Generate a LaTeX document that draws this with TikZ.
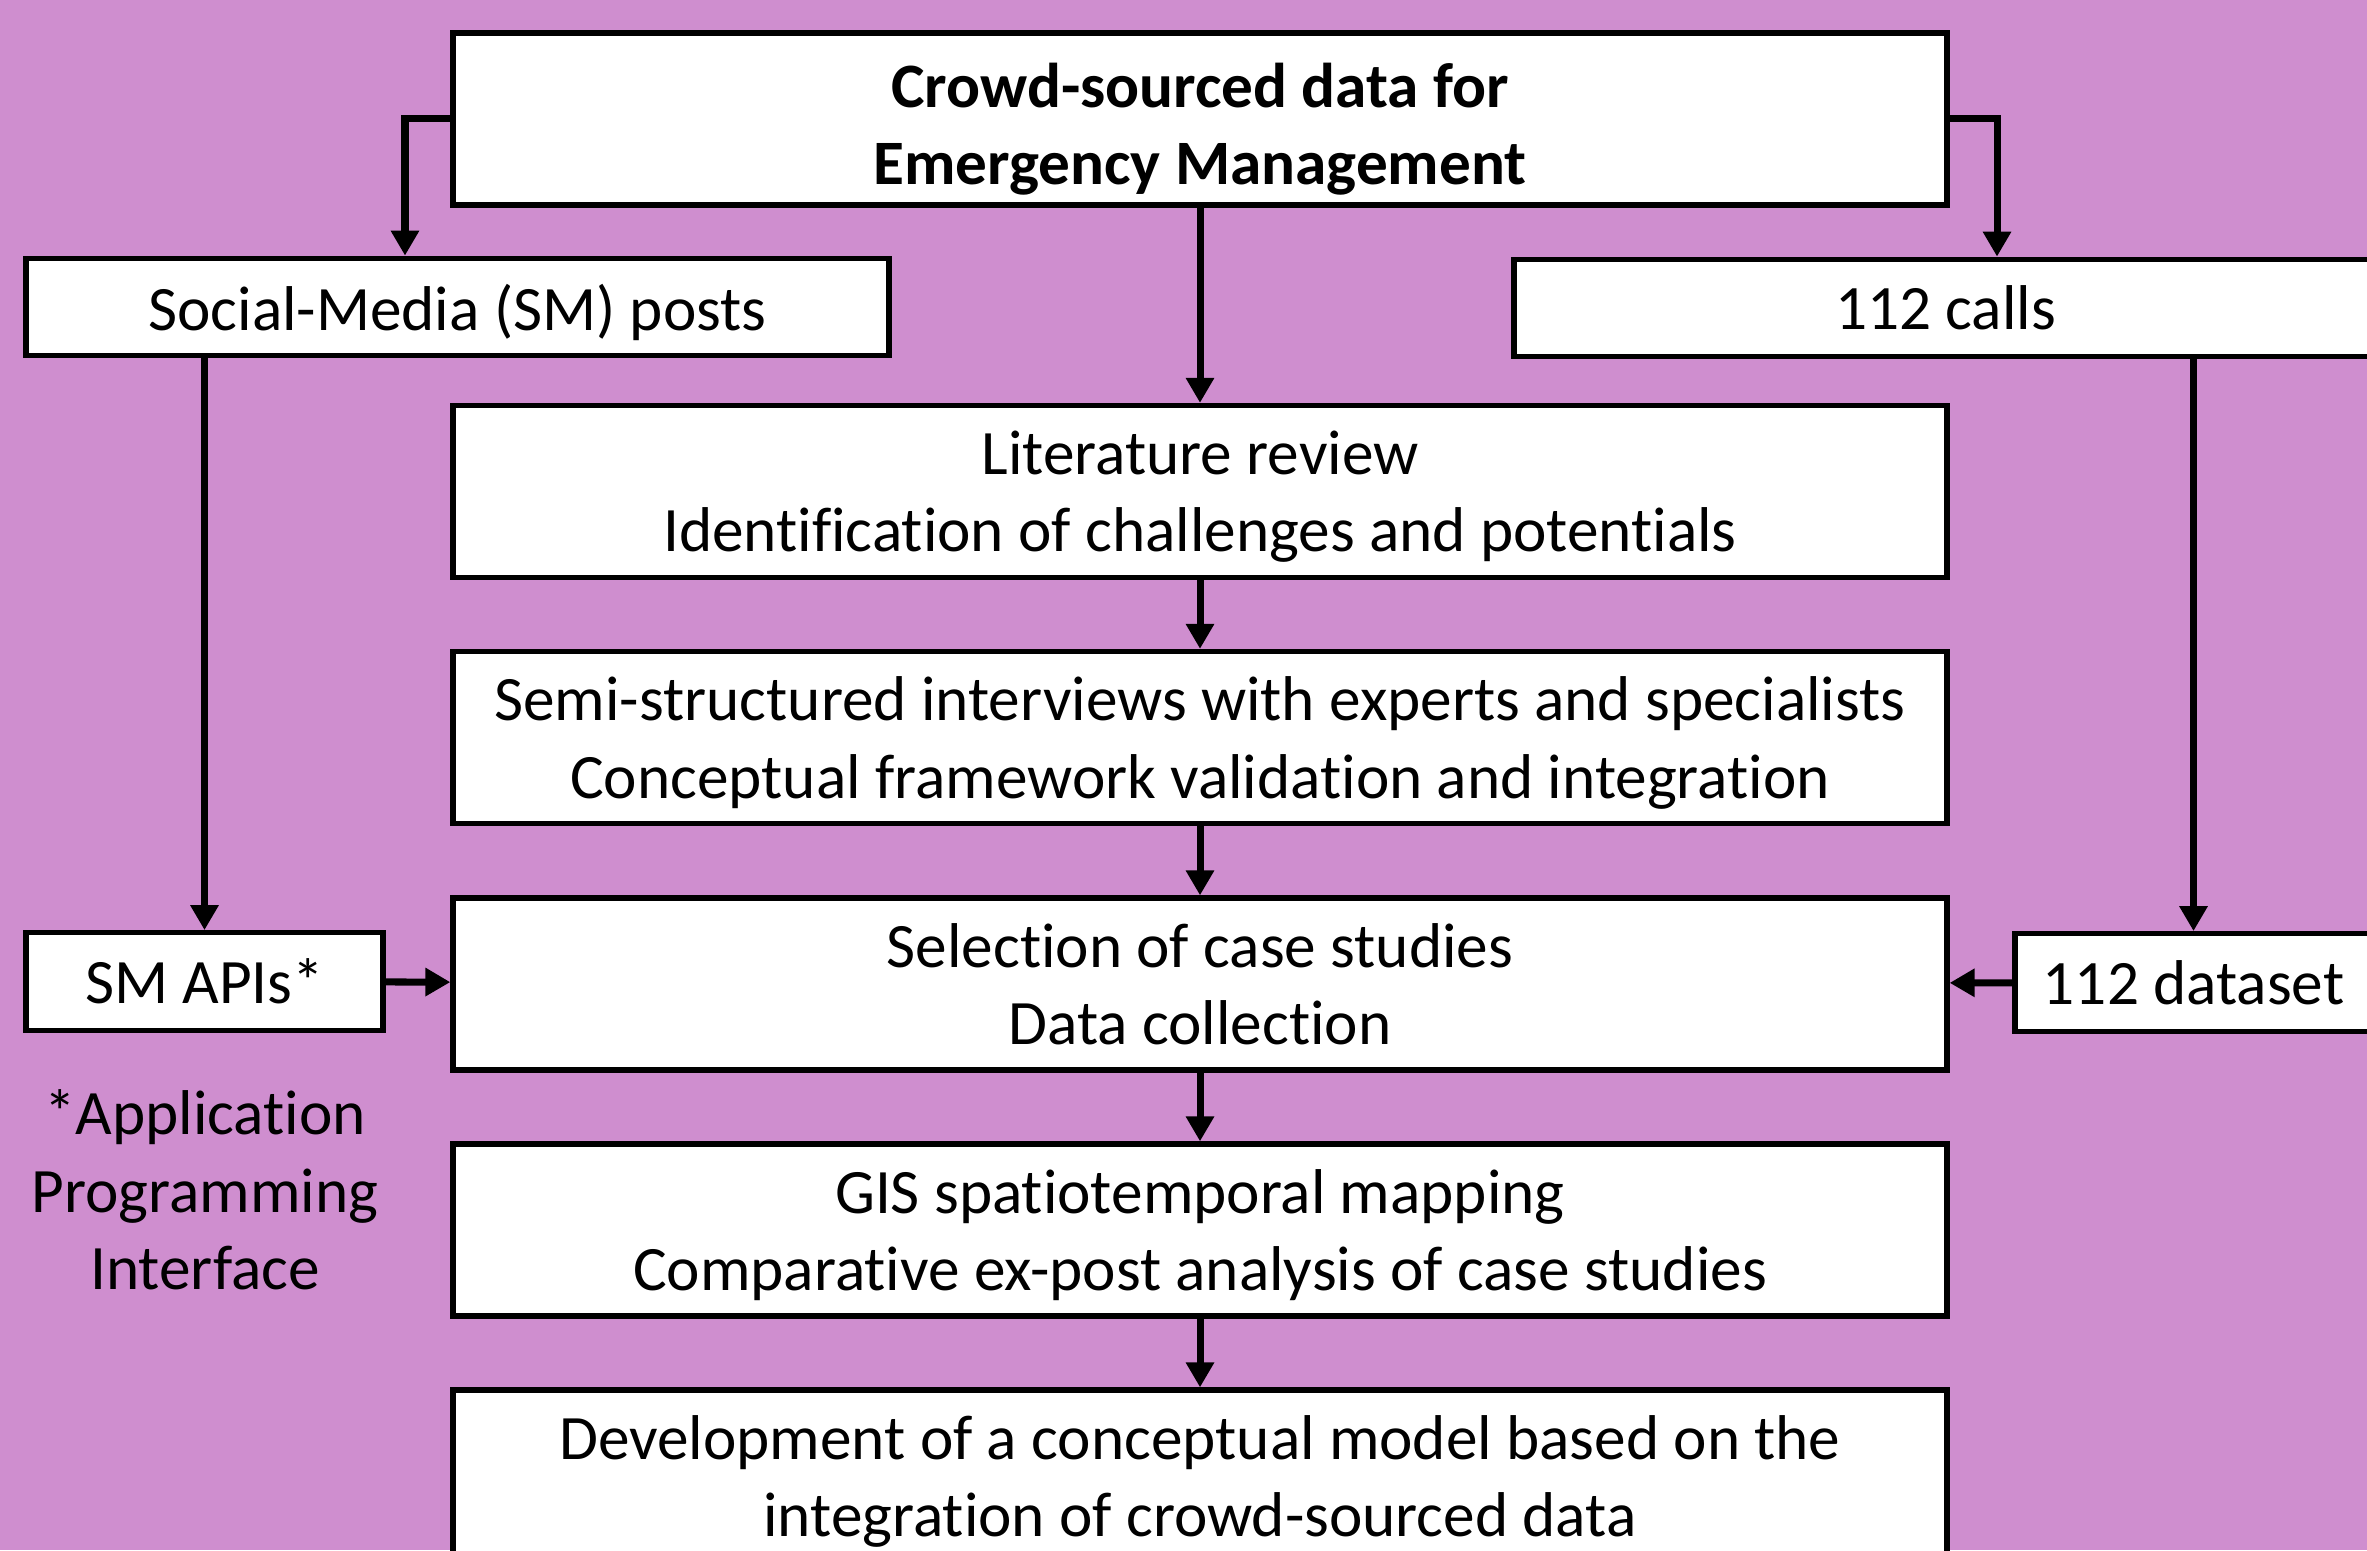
\documentclass[tikz,border=0pt]{standalone}
\usepackage{fontspec}
\setmainfont{Carlito}[Ligatures=NoCommon, RawFeature=-liga, RawFeature=-clig, RawFeature=-calt]
\usetikzlibrary{arrows.meta}
\definecolor{nenhong}{RGB}{207,142,207}
\begin{document}
\begin{tikzpicture}[line cap=butt, >={Triangle[length=0.5cm,width=0.54cm]},
	hop/.style={draw, line width=3pt, fill=white, inner sep=0pt, align=center, text depth=0pt, font=\fontsize{36}{44}\selectfont},
	hoplon/.style={hop, minimum width=29.88cm, minimum height=3.44cm},
	hopnho/.style={hop, minimum height=1.95cm},
	muiten/.style={->, line width=4pt}]
	%%Khung hình và nền
	\def \rong{47.34}
	\def \cao{31}
	\useasboundingbox (0,0) rectangle (\rong,\cao);
	\clip (0,0) rectangle (\rong,\cao);
	\fill[nenhong] (0,0) rectangle (\rong,\cao);
	%%Cột giữa
	\node[hoplon, text height=75pt, font=\fontsize{36}{44}\selectfont\bfseries] (crowd) at (24,28.62) {Crowd-sourced data for\\Emergency Management};
	\node[hoplon] (litrev) at (24,21.17) {Literature review\\Identification of challenges and potentials};
	\node[hoplon] (interview) at (24,16.25) {Semi-structured interviews with experts and specialists\\Conceptual framework validation and integration};
	\node[hoplon] (select) at (24,11.32) {Selection of case studies\\Data collection};
	\node[hoplon] (gis) at (24,6.4) {GIS spatiotemporal mapping\\Comparative ex-post analysis of case studies};
	\node[hoplon] (model) at (24,1.48) {Development of a conceptual model based on the\\integration of crowd-sourced data};
	%%Hai bên
	\node[hopnho, minimum width=17.26cm] (smpost) at (9.15,24.86) {Social-Media (SM) posts};
	\node[hopnho, minimum width=17.26cm] (calls) at (38.91,24.84) {112 calls};
	\node[hopnho, minimum width=7.14cm] (smapi) at (4.09,11.37) {SM APIs*};
	\node[hopnho, minimum width=7.14cm] (dataset) at (43.87,11.35) {112 dataset};
	\node[align=center, font=\fontsize{36}{44}\selectfont] (apinote) at (4.1,7.2) {*Application\\Programming\\Interface};
	%%Mũi tên
	\foreach \a/\b in {crowd/litrev, litrev/interview, interview/select, select/gis, gis/model}
		\draw[muiten] (\a) -- (\b);
	\draw[muiten] (crowd.west) -| ([xshift=-1.05cm]smpost.north);
	\draw[muiten] (crowd.east) -| ([xshift=1.03cm]calls.north);
	\draw[muiten] (smapi.north |- smpost.south) -- (smapi.north);
	\draw[muiten] (dataset.north |- calls.south) -- (dataset.north);
	\draw[muiten] (smapi) -- (select);
	\draw[muiten] (dataset) -- (select);
\end{tikzpicture}
\end{document}
